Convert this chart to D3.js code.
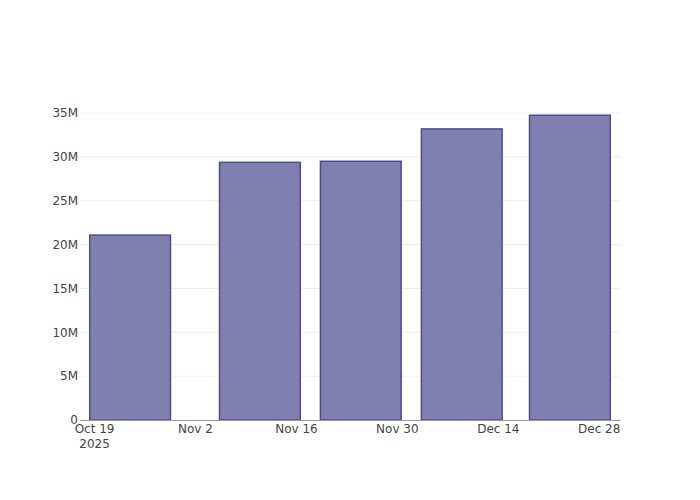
<!DOCTYPE html>
<html>
<head>
<meta charset="utf-8">
<script src="https://cdn.jsdelivr.net/npm/d3@7"></script>
<style>
  body { margin: 0; background: #fff; }
  text { font-family: "DejaVu Sans", Verdana, sans-serif; }
</style>
</head>
<body>
<div id="chart"></div>
<script>
// data
var dates = ["2025-10-24", "2025-11-11", "2025-11-25", "2025-12-09", "2025-12-24"];
var values = [21080000, 29370000, 29490000, 33180000, 34740000];
var xTicks = ["2025-10-19", "2025-11-02", "2025-11-16", "2025-11-30", "2025-12-14", "2025-12-28"];
var yTicks = [0, 5e6, 10e6, 15e6, 20e6, 25e6, 30e6, 35e6];

var margin = {top: 100, right: 80, bottom: 80, left: 80},
    width = 700 - margin.left - margin.right,
    height = 500 - margin.top - margin.bottom;

var parseDay = d3.timeParse("%Y-%m-%d");
var DAY = 864e5;

var data = dates.map(function(d, i) { return {date: parseDay(d), value: values[i]}; });

// bar width = 0.8 of smallest gap between dates (like plotly)
var minGap = d3.min(d3.pairs(data), function(p) { return p[1].date - p[0].date; });
var half = minGap * 0.4;
var pad = 1.35 * DAY;

var svg = d3.select("#chart")
  .append("svg")
    .attr("width", width + margin.left + margin.right)
    .attr("height", height + margin.top + margin.bottom)
  .append("g")
    .attr("transform", "translate(" + margin.left + "," + margin.top + ")");

var x = d3.scaleTime()
    .domain([new Date(+data[0].date - half - pad), new Date(+data[data.length - 1].date + half + pad)])
    .range([0, width]);

var y = d3.scaleLinear()
    .domain([0, d3.max(values) * 1.05])
    .range([height, 0]);

// grid lines
svg.append("g")
  .selectAll("line")
  .data(yTicks.slice(1))
  .enter()
  .append("line")
    .attr("x1", 0)
    .attr("x2", width)
    .attr("y1", function(d) { return y(d); })
    .attr("y2", function(d) { return y(d); })
    .style("stroke", "#eee")
    .style("stroke-width", 1);

// bars
svg.selectAll("rect.bar")
  .data(data)
  .enter()
  .append("rect")
    .attr("class", "bar")
    .attr("x", function(d) { return x(new Date(+d.date - half)); })
    .attr("width", function(d) { return x(new Date(+d.date + half)) - x(new Date(+d.date - half)); })
    .attr("y", function(d) { return y(d.value); })
    .attr("height", function(d) { return height - y(d.value); })
    .style("fill", "#7f7fb0")
    .style("stroke", "#4e4e8e")
    .style("stroke-width", 1.5);

// y axis
var yAxis = svg.append("g")
    .call(d3.axisLeft(y)
      .tickValues(yTicks)
      .tickSize(0)
      .tickPadding(2)
      .tickFormat(function(d) { return d === 0 ? "0" : (d / 1e6) + "M"; }));
yAxis.select(".domain").remove();
yAxis.selectAll("text").style("font-size", "12px").style("fill", "#444");

// x axis
var xAxis = svg.append("g")
    .attr("transform", "translate(0," + height + ")")
    .call(d3.axisBottom(x)
      .tickValues(xTicks.map(parseDay))
      .tickSize(0)
      .tickPadding(4)
      .tickFormat(d3.timeFormat("%b %-d")));
xAxis.select(".domain").style("stroke", "#999").style("stroke-width", 1);
xAxis.selectAll("text").style("font-size", "12px").style("fill", "#444");

// year under the first tick
xAxis.selectAll(".tick")
  .filter(function(d, i) { return i === 0; })
  .append("text")
    .attr("y", 19)
    .attr("dy", "0.71em")
    .attr("text-anchor", "middle")
    .style("font-size", "12px")
    .style("fill", "#444")
    .text("2025");
</script>
</body>
</html>
